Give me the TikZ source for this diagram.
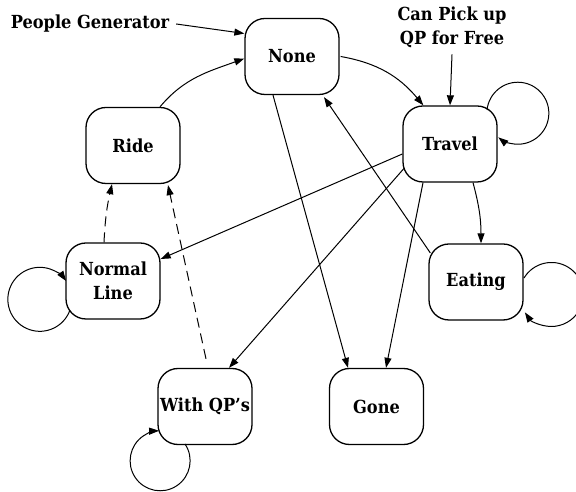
\documentclass[tikz,border=0pt]{standalone}
\usepackage{fontspec}
\usetikzlibrary{arrows.meta,calc}
\newfontfamily\dvsc{DejaVu Serif Condensed}
\newcommand\statefont{\dvsc\fontsize{9}{11.8}\selectfont\bfseries}
\begin{document}
\begin{tikzpicture}[x=0.5pt,y=0.5pt,
  state/.style={draw, line width=0.65pt, rounded corners=10pt, minimum width=47pt, minimum height=38pt, inner sep=0pt, align=center, font=\statefont},
  lbl/.style={align=center, font=\statefont},
  arr/.style={-{Triangle[length=5pt,width=3.5pt]}, line width=0.5pt},
  dsh/.style={arr, dash pattern=on 5pt off 3pt}]
\useasboundingbox (0,0) rectangle (576,491);
\clip (0,0) rectangle (576,491);
\node[state] (none) at (292,434.5) {None};
\node[state] (travel) at (450,347) {Travel};
\node[state] (ride) at (133,345.5) {Ride};
\node[state] (normal) at (113,210) {Normal\\Line};
\node[state] (withqp) at (205,84.5) {With QP’s};
\node[state] (gone) at (376.5,84.5) {Gone};
\node[state] (eating) at (476,209) {Eating};
\node[lbl] (pg) at (90,467) {People Generator};
\node[lbl] (can) at (452,464) {Can Pick up\\QP for Free};

\draw[arr] (pg.east) -- ($(none.west)+(0,23)$);
\draw[arr] ($(ride.north)+(27,0)$) to[out=50,in=200] ($(none.west)+(0,-2)$);
\draw[arr] ($(none.east)+(1,0)$) to[out=-10,in=130] ($(travel.north west)+(21,0)$);
\draw[arr] (can.south) -- (travel.north);
\draw[arr] ($(travel.center)+(37,34)$) arc[start angle=174,end angle=-129,radius=31];
\draw[arr] ($(travel.west)+(0,-10)$) -- ($(normal.east)+(0,22)$);
\draw[arr] ($(travel.west)+(2,-24)$) -- ($(withqp.north)+(24,0)$);
\draw[arr] ($(travel.south)+(-27,0)$) -- ($(gone.north)+(9.5,0)$);
\draw[arr] ($(travel.south)+(23,0)$) to[out=-75,in=90] ($(eating.north)+(5,0)$);
\draw[arr] ($(eating.west)+(2,29)$) -- ($(none.south)+(32,-2)$);
\draw[arr] ($(none.south)+(-19,0)$) -- ($(gone.north)+(-28.5,0)$);
\draw[arr] ($(eating.center)+(48,4)$) arc[start angle=149,end angle=-146,radius=32];
\draw[arr] ($(normal.center)+(-43,-29)$) arc[start angle=-19.5,end angle=-325,radius=32];
\draw[arr] ($(withqp.center)+(-20,-37.5)$) arc[start angle=34,end angle=-268,radius=30];
\draw[dsh] ($(normal.north)+(-9,0)$) to[bend left=5] ($(ride.south)+(-21,0)$);
\draw[dsh] ($(withqp.north)+(1,9)$) -- ($(ride.south)+(35,-1)$);
\end{tikzpicture}
\end{document}
